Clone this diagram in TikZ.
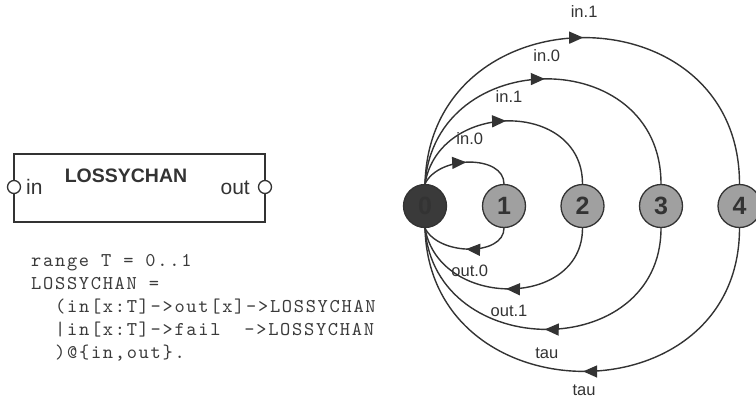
\documentclass[tikz,border=0pt]{standalone}
\usepackage{fontspec}
\setmainfont{Liberation Sans}
\newfontfamily\codefont[LetterSpace=8.7]{lmmono10-regular.otf}
\usetikzlibrary{arrows.meta,decorations.markings,calc}
\definecolor{ink}{HTML}{333333}
\definecolor{stategray}{HTML}{A0A0A0}
\definecolor{statedark}{HTML}{3A3A3A}
\definecolor{codeink}{HTML}{3A3A3A}
\begin{document}
\begin{tikzpicture}[x=1pt,y=-1pt,
  state/.style={circle,draw=ink,line width=1.3pt,minimum size=43pt,inner sep=0pt,
    fill=stategray,text=ink,font=\fontsize{25}{25}\selectfont\bfseries},
  trans/.style={draw,color=ink,line width=1.4pt,postaction={decorate},
    decoration={markings,mark=at position 0.5 with {\arrow{Triangle[length=14pt,width=12pt]}}}},
  lbl/.style={text=ink,inner sep=0pt,font=\fontsize{16.5}{16.5}\selectfont},
  codeline/.style={anchor=base west,inner sep=0pt,text=codeink,
    font=\codefont\fontsize{19.5}{19.5}\selectfont},
  port/.style={circle,draw=ink,fill=white,line width=1.3pt,minimum size=13pt,inner sep=0pt},
  portlbl/.style={inner sep=0pt,text=ink,font=\fontsize{21}{21}\selectfont},
]
\useasboundingbox (0,0) rectangle (756,399);

% process box
\node[draw=ink,line width=1.4pt,minimum width=251pt,minimum height=68pt,inner sep=0pt]
  (box) at (139.5,188) {};
\node[port] (pin) at (14,187) {};
\node[port] (pout) at (265,187) {};
\node[portlbl,anchor=base west] (tin) at (26,194) {in};
\node[portlbl,anchor=base east] (tout) at (250,194) {out};
\node[inner sep=0pt,text=ink,anchor=base,font=\fontsize{19.5}{19.5}\selectfont\bfseries]
  (title) at (126,182) {LOSSYCHAN};

% code
\node[codeline] (c1) at (31,266) {range T = 0..1};
\node[codeline] (c2) at (31,289) {LOSSYCHAN =};
\node[codeline] (c3) at (55,312) {(in[x:T]->out[x]->LOSSYCHAN};
\node[codeline] (c4) at (55,335) {|in[x:T]->fail\ \ ->LOSSYCHAN};
\node[codeline] (c5) at (55,358) {)@\{in,out\}.};

% states
\node[state,fill=statedark,text=black!80] (n0) at (425,206) {0};
\node[state] (n1) at (504,206) {1};
\node[state] (n2) at (582.5,206) {2};
\node[state] (n3) at (661,206) {3};
\node[state] (n4) at (739.5,206) {4};

% upper transitions
\draw[trans] (n0.north) .. controls ($(n0.north)+(14,-29)$) and ($(n1.north)+(0,-29)$) .. (n1.north)
  node[lbl,pos=0.5,yshift=23pt] {in.0};
\draw[trans] (n0.north) .. controls ($(n0.north)+(14,-84)$) and ($(n2.north)+(0,-84)$) .. (n2.north)
  node[lbl,pos=0.5,yshift=24pt] {in.1};
\draw[trans] (n0.north) .. controls ($(n0.north)+(10,-140)$) and ($(n3.north)+(0,-140)$) .. (n3.north)
  node[lbl,pos=0.5,yshift=23pt] {in.0};
\draw[trans] (n0.north) .. controls ($(n0.north)+(5,-195)$) and ($(n4.north)+(0,-195)$) .. (n4.north)
  node[lbl,pos=0.5,yshift=26pt] {in.1};

% lower transitions
\draw[trans] (n1.south) .. controls ($(n1.south)+(0,28)$) and ($(n0.south)+(14,28)$) .. (n0.south)
  node[lbl,pos=0.5,yshift=-22pt] {out.0};
\draw[trans] (n2.south) .. controls ($(n2.south)+(0,81)$) and ($(n0.south)+(14,81)$) .. (n0.south)
  node[lbl,pos=0.5,yshift=-22pt] {out.1};
\draw[trans] (n3.south) .. controls ($(n3.south)+(0,135)$) and ($(n0.south)+(10,135)$) .. (n0.south)
  node[lbl,pos=0.5,yshift=-24pt] {tau};
\draw[trans] (n4.south) .. controls ($(n4.south)+(0,191)$) and ($(n0.south)+(5,191)$) .. (n0.south)
  node[lbl,pos=0.5,yshift=-19pt] {tau};
\end{tikzpicture}
\end{document}
